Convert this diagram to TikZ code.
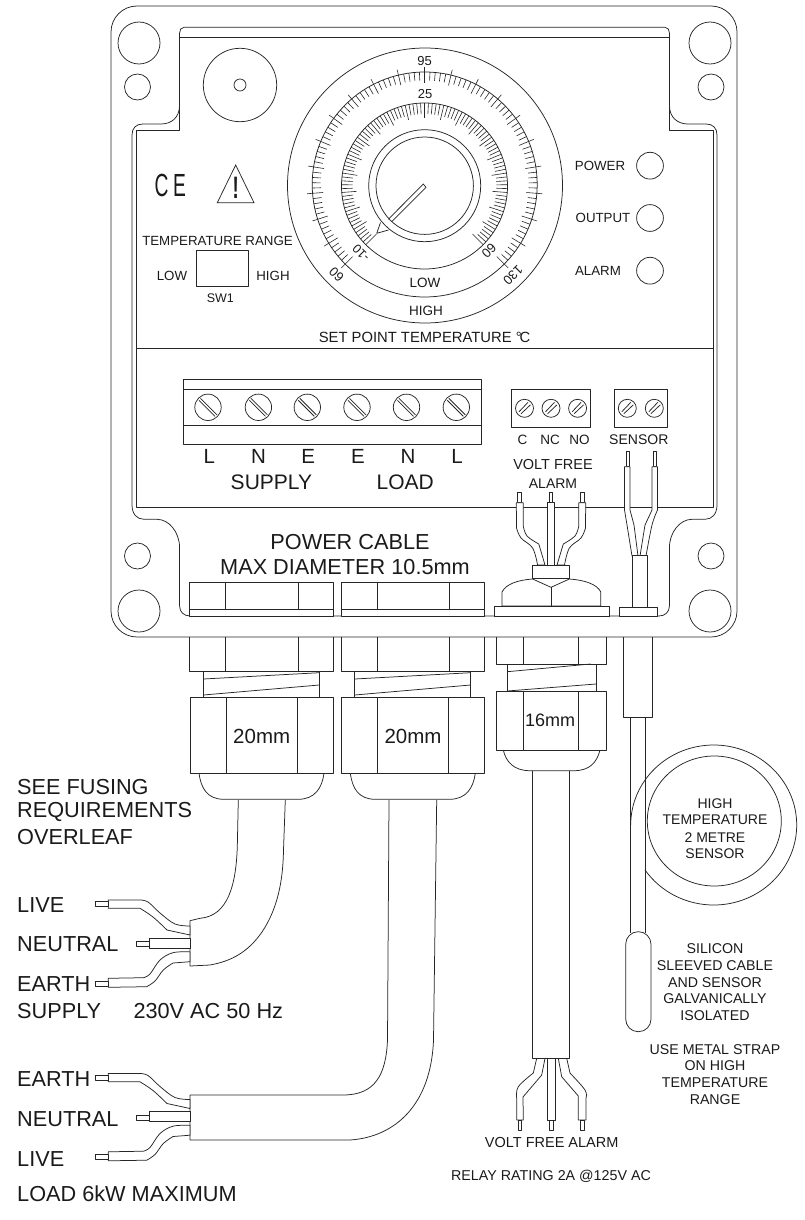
\documentclass[tikz,border=0pt]{standalone}
\usepackage{fontspec}
\setmainfont{Liberation Sans}
\definecolor{ink}{HTML}{262626}
\definecolor{txt}{HTML}{1A1A1A}
\tikzset{
  lab/.style={font=\fontsize{#1}{#1}\selectfont, inner sep=0pt, text=txt},
  labl/.style={font=\fontsize{#1}{#1}\selectfont, inner sep=0pt, anchor=west, text=txt},
  ln/.style={draw=ink, line width=0.75pt, line join=round},
  wf/.style={ln, fill=white},
  tick/.style={draw=ink, line width=0.6pt}
}
\newcommand{\bigscrew}[2]{%
  \draw[ln] (#1,#2) circle[radius=13.2pt];
  \draw[ln] ($(#1,#2)+(-7.5,-9)$) -- ($(#1,#2)+(9,7.5)$);
  \draw[ln] ($(#1,#2)+(-9,-7)$) -- ($(#1,#2)+(7,9)$);
}
\newcommand{\smallscrew}[2]{%
  \draw[ln] (#1,#2) circle[radius=9pt];
  \draw[ln] ($(#1,#2)+(-5.5,3.5)$) -- ($(#1,#2)+(3.5,-6)$);
  \draw[ln] ($(#1,#2)+(-3.5,5.5)$) -- ($(#1,#2)+(6,-3.5)$);
}
\newcommand{\leadwires}{%
  % upper lead
  \draw[wf] (108.3,900) -- plot[smooth,tension=.6] coordinates {(140,900) (148,902) (160,913) (175,924) (190,926)} -- (190,935) -- plot[smooth,tension=.6] coordinates {(167,930) (153,917) (140,908.3)} -- (108.3,908.3) -- cycle;
  \draw[wf] (95,901.7) rectangle (108.3,906.7);
  % middle lead
  \draw[wf] (149.3,938.3) rectangle (190,948.3);
  \draw[wf] (136.7,941.7) rectangle (149.3,946.7);
  % lower lead
  \draw[wf] (108.3,978.3) -- plot[smooth,tension=.6] coordinates {(143.3,977.7) (150,974) (160,960) (173,952.7) (190,951.7)} -- (190,961.7) -- plot[smooth,tension=.6] coordinates {(173,963) (163.3,970) (155,981) (146.7,986.7)} -- (108.3,987.3) -- cycle;
  \draw[wf] (95,981) rectangle (108.3,986);
}
\usetikzlibrary{calc}
\begin{document}
\begin{tikzpicture}[x=1pt,y=-1pt]
\useasboundingbox (0,0) rectangle (804,1220);
% ---------- enclosure ----------
\draw[ln,rounded corners=26pt] (111,6) rectangle (737,637);
\draw[ln] (184,27.3) -- (665,27.3) .. controls (668,27.3) and (669.4,30) .. (669.4,33) -- (669.4,105)
  .. controls (669.4,118) and (678,124) .. (688,124) -- (706,124) .. controls (713,124) and (717,128) .. (717,135)
  -- (717,505) .. controls (717,514) and (712,519.3) .. (705,519.3) -- (692,519.3)
  .. controls (680,519.3) and (669.4,532) .. (669.4,548) -- (669.4,606)
  .. controls (669.4,612) and (665,616) .. (659,616) -- (190,616)
  .. controls (184,616) and (179.6,612) .. (179.6,606) -- (179.6,548)
  .. controls (179.6,532) and (169,519.3) .. (157,519.3) -- (144,519.3)
  .. controls (137,519.3) and (132,514) .. (132,505) -- (132,135)
  .. controls (132,128) and (136,124) .. (143,124) -- (161,124)
  .. controls (171,124) and (179.6,118) .. (179.6,105) -- (179.6,33)
  .. controls (179.6,30) and (181,27.3) .. (184,27.3) -- cycle;
\draw[ln] (179.6,37.3) -- (669.4,37.3) -- (669.4,130) -- (713.5,130) -- (713.5,507) -- (136,507) -- (136,130) -- (179.6,130) -- cycle;
\draw[ln] (136,348) -- (713.5,348);
% mounting holes
\foreach \cx/\cy/\r in {139/43/21,137.5/87/13,710/43/21,711/87/13,137.5/556/13,139/611/21,711/556/13,710/611/21}
  \draw[ln] (\cx,\cy) circle[radius=\r pt];
\draw[ln] (240,85) circle[radius=36.7pt];
\draw[ln] (240,85) circle[radius=6pt];
% ---------- dial ----------
\draw[ln] (425,185.5) circle[radius=137.5pt];
\draw[ln] (424.7,184.5) circle[radius=112.5pt];
\draw[ln] (424.5,186) circle[radius=83pt];
\draw[ln] (424.7,185.7) circle[radius=56pt];
\draw[ln] (424.7,185.7) circle[radius=48.7pt];
\foreach \i in {0,...,100}{
  \pgfmathsetmacro{\a}{225-2.7*\i}
  \pgfmathtruncatemacro{\m}{mod(\i,5)}
  \ifnum\m=0
    \draw[tick] ($(424.7,184.5)+({118*cos(\a)},{-118*sin(\a)})$) -- ($(424.7,184.5)+({102*cos(\a)},{-102*sin(\a)})$);
    \draw[tick] ($(424.5,186)+({83*cos(\a)},{-83*sin(\a)})$) -- ($(424.5,186)+({68*cos(\a)},{-68*sin(\a)})$);
  \else
    \draw[tick] ($(424.7,184.5)+({112.5*cos(\a)},{-112.5*sin(\a)})$) -- ($(424.7,184.5)+({104*cos(\a)},{-104*sin(\a)})$);
    \draw[tick] ($(424.5,186)+({83*cos(\a)},{-83*sin(\a)})$) -- ($(424.5,186)+({72*cos(\a)},{-72*sin(\a)})$);
  \fi
}
% pointer
\draw[ln] (388.3,219.3) -- (423.3,184) -- (426,187.3) -- (391.7,221.7);
\draw[ln] (380.5,222.5) -- (376.7,233.3) -- (388.5,230);
\node[lab=13] (d95) at (424.5,60.7) {95};
\node[lab=13] (d25) at (425,94.3) {25};
\node[lab=12.5,rotate=135] (dm10) at (361,253) {-10};
\node[lab=13,rotate=135] (d60l) at (336.5,274.5) {60};
\node[lab=13,rotate=225] (d60r) at (489,251) {60};
\node[lab=13,rotate=225] (d130) at (513,275) {130};
\node[lab=13.5] (dlow) at (425,283) {LOW};
\node[lab=13.5] (dhigh) at (426,311) {HIGH};
\node[lab=14.8] (setp) at (424.5,337) {SET POINT TEMPERATURE °\kern-2.2pt C};
% marks
\node[lab=32] (ce) at (170.3,185.7) {\scalebox{0.6}[1]{C\kern8pt E}};
\draw[ln,line join=miter] (235.7,165) -- (254,202.7) -- (217.3,202.7) -- cycle;
\node[lab=31] (warn) at (235.7,187.5) {\scalebox{0.6}[1]{\bfseries !}};
\node[lab=13.3] (trange) at (217.5,240.7) {TEMPERATURE RANGE};
\draw[ln] (196,250.7) rectangle (248,286.7);
\node[lab=13.3] (lowsw) at (172,275.7) {LOW};
\node[lab=13.3] (highsw) at (273,275.7) {HIGH};
\node[lab=12.5] (sw1) at (220.4,298) {SW1};
\node[lab=13.3] (power) at (600,166) {POWER};
\node[lab=13.3] (output) at (603,218) {OUTPUT};
\node[lab=13.3] (alarm) at (598,270.7) {ALARM};
\foreach \cy in {165.7,218,270.7} \draw[ln] (650,\cy) circle[radius=13.4pt];
% ---------- terminals ----------
\draw[ln] (183,379.3) rectangle (481.6,444.3);
\draw[ln] (183,389.3) -- (481.6,389.3);
\draw[ln] (183,425.3) -- (481.6,425.3);
\bigscrew{208}{407.3}\bigscrew{258.4}{407.3}\bigscrew{307.3}{407.3}\bigscrew{357}{407.3}\bigscrew{406.5}{407.3}\bigscrew{456.3}{407.3}
\draw[ln] (511.4,389.3) rectangle (590.6,427.3);
\smallscrew{524.5}{408.3}\smallscrew{551}{408.3}\smallscrew{577.6}{408.3}
\draw[ln] (614.3,389.3) rectangle (667.3,427.3);
\smallscrew{627.3}{408.3}\smallscrew{654.3}{408.3}
\node[lab=20.5] (tl1) at (209.4,456.7) {L};
\node[lab=20.5] (tn1) at (258.4,456.7) {N};
\node[lab=20.5] (te1) at (308.2,456.7) {E};
\node[lab=20.5] (te2) at (358,456.7) {E};
\node[lab=20.5] (tn2) at (408,456.7) {N};
\node[lab=20.5] (tl2) at (457,456.7) {L};
\node[lab=21] (tsup) at (271.4,482) {SUPPLY};
\node[lab=21] (tload) at (405.3,482) {LOAD};
\node[lab=13.5] (tc) at (522.4,440) {C};
\node[lab=13.5] (tnc) at (550,440) {NC};
\node[lab=13.5] (tno) at (579.6,440) {NO};
\node[lab=14] (tsen) at (638.8,440) {SENSOR};
\node[lab=14.5] (vf1) at (553,465) {VOLT FREE};
\node[lab=14] (vf2) at (553,484) {ALARM};
\node[lab=21.7] (pc1) at (350,541.7) {POWER CABLE};
\node[lab=21.7] (pc2) at (345,566.7) {MAX DIAMETER 10.5mm};
% ---------- alarm wires in box ----------
\draw[wf] (517.7,502.7) rectangle (521.6,492.7);
\draw[wf] (549.3,502.7) rectangle (552.7,492.7);
\draw[wf] (580.4,502.7) rectangle (584,492.7);
\draw[wf] (516.3,502.7) -- plot[smooth,tension=.6] coordinates {(516.5,528) (521,538) (532.6,548) (537.6,565)} -- (545,565) -- plot[smooth,tension=.6] coordinates {(538.8,544) (527,536) (523.3,526)} -- (523.3,502.7) -- cycle;
\draw[wf] (547.8,502.7) rectangle (554.3,565);
\draw[wf] (585.7,502.7) -- plot[smooth,tension=.6] coordinates {(585.5,528) (581,538) (569.4,548) (564.5,565)} -- (557,565) -- plot[smooth,tension=.6] coordinates {(563.3,544) (575,536) (578.8,526)} -- (578.8,502.7) -- cycle;
\draw[wf] (532.6,565) rectangle (569.4,578.5);
\draw[wf] (502,606) -- (502,592) .. controls (506,584) and (518,580) .. (532.6,579) -- (551,587.3) -- (569.4,579) .. controls (584,580) and (597,584) .. (600.8,592) -- (600.8,606) -- cycle;
\draw[ln] (551,587.3) -- (551,606);
\draw[wf] (494,606) rectangle (609,616);
% sensor wires in box
\draw[wf] (626.5,451.7) rectangle (629.5,466.7);
\draw[wf] (653,451.7) rectangle (656,466.7);
\draw[wf] (624.5,466.7) -- plot[smooth,tension=.6] coordinates {(624.5,510) (627,525) (632,556)} -- (638,556) -- plot[smooth,tension=.6] coordinates {(634,525) (630,510)} -- (630,466.7) -- cycle;
\draw[wf] (657.5,466.7) -- plot[smooth,tension=.6] coordinates {(657.5,510) (652,525) (646,556)} -- (640,556) -- plot[smooth,tension=.6] coordinates {(645,525) (652,510)} -- (652,466.7) -- cycle;
\draw[wf] (632,555.7) rectangle (647,607.3);
\draw[wf] (619.6,607.3) rectangle (657,616);
% ---------- glands 1 & 2 ----------
\foreach \dx/\w/\nm in {0/143.7/a,151.3/143.7/b}{
  \begin{scope}[shift={(\dx,0)}]
    % inside box
    \draw[wf] (189.8,582.7) rectangle (333.5,616);
    \draw[ln] (189.8,609.3) -- (333.5,609.3);
    \draw[ln] (225.7,582.7) -- (225.7,609.3);
    \draw[ln] (298,582.7) -- (298,609.3);
    % below box
    \draw[ln] (189.8,637) -- (189.8,671.7) -- (333.5,671.7) -- (333.5,637);
    \draw[ln] (225.7,637) -- (225.7,671.7);
    \draw[ln] (298,637) -- (298,671.7);
    \draw[ln] (203.3,671.7) -- (203.3,697.3);
    \draw[ln] (319.3,671.7) -- (319.3,697.3);
    \draw[ln] (203.3,679) -- (319.3,672.7);
    \draw[ln] (203.3,695) -- (319.3,685);
    \draw[ln] (190,697.3) rectangle (333.3,773.3);
    \draw[ln] (226,697.3) -- (226,773.3);
    \draw[ln] (297.3,697.3) -- (297.3,773.3);
    \draw[ln] (199,773.3) .. controls (201,788) and (207,799.3) .. (224,799.3) -- (298,799.3) .. controls (315,799.3) and (322,788) .. (324,773.3);
  \end{scope}
}
\node[lab=20.5] (g20a) at (261.7,736.7) {20mm};
\node[lab=20.5] (g20b) at (413,736.7) {20mm};
% ---------- gland 3 ----------
\draw[ln] (496.7,637) -- (496.7,664) -- (606,664) -- (606,637);
\draw[ln] (523.3,637) -- (523.3,664);
\draw[ln] (578.4,637) -- (578.4,664);
\draw[ln] (507.3,664) -- (507.3,691.7);
\draw[ln] (596,664) -- (596,691.7);
\draw[ln] (507.3,671.7) -- (590.6,664);
\draw[ln] (507.3,691) -- (596,684);
\draw[ln] (496.7,691.7) rectangle (606,750);
\draw[ln] (523.3,691.7) -- (523.3,750);
\draw[ln] (578.3,691.7) -- (578.3,750);
\draw[ln] (503.3,750) .. controls (506,762) and (514,770.7) .. (530,770.7) -- (574,770.7) .. controls (590,770.7) and (597,762) .. (600,750);
\node[lab=18] (g16) at (550,720.7) {16mm};
\draw[ln] (532.7,770.7) -- (532.7,1058.3) -- (569.3,1058.3) -- (569.3,770.7);
% alarm wires below
\draw[wf] (518.3,1120) rectangle (521.7,1130);
\draw[wf] (549.5,1120) rectangle (553.2,1130);
\draw[wf] (580.5,1120) rectangle (584,1130);
\draw[ln] (536.7,1058.3) -- plot[smooth,tension=.6] coordinates {(533.3,1073) (518.3,1086.7) (516.7,1098)} -- (516.7,1120) -- (523.3,1120) -- plot[smooth,tension=.6] coordinates {(523,1097) (541.7,1075)} -- (545,1058.3);
\draw[ln] (547.7,1058.3) rectangle (555,1120);
\draw[ln] (566.7,1058.3) -- plot[smooth,tension=.6] coordinates {(570,1073) (585,1090) (586,1098)} -- (586,1120) -- (578.3,1120) -- plot[smooth,tension=.6] coordinates {(578.3,1096) (561.7,1076.7)} -- (558.3,1058.3);
\node[lab=14.5] (vfa) at (551.7,1142.7) {VOLT FREE ALARM};
\node[lab=14.3] (relay) at (551,1176) {RELAY RATING 2A @125V AC};
% ---------- sensor cable ----------
\draw[ln] (623.3,637) -- (623.3,717.3) -- (652.7,717.3) -- (652.7,637);
\draw[ln] (630.7,717.3) -- (630.7,933);
\draw[ln] (645.3,717.3) -- (645.3,933);
\draw[ln] (630.7,825) arc[start angle=180, end angle=-146, x radius=83pt, y radius=80pt];
\draw[ln] (714.3,821) circle[x radius=67pt, y radius=65pt];
\draw[ln,fill=white,rounded corners=12.5pt] (625.7,931.7) rectangle (651,1031.7);
\node[lab=14] (s1) at (715,804) {HIGH};
\node[lab=14] (s2) at (715,820) {TEMPERATURE};
\node[lab=14] (s3) at (715,837.3) {2 METRE};
\node[lab=14] (s4) at (715,854) {SENSOR};
\node[lab=14.2] (s5) at (715,949) {SILICON};
\node[lab=14.2] (s6) at (715,965.7) {SLEEVED CABLE};
\node[lab=14.2] (s7) at (715,982.3) {AND SENSOR};
\node[lab=14.2] (s8) at (715,999) {GALVANICALLY};
\node[lab=14.2] (s9) at (715,1015.7) {ISOLATED};
\node[lab=14.2] (s10) at (715,1049.3) {USE METAL STRAP};
\node[lab=14.2] (s11) at (715,1066) {ON HIGH};
\node[lab=14.2] (s12) at (715,1082.7) {TEMPERATURE};
\node[lab=14.2] (s13) at (715,1099.3) {RANGE};
% ---------- supply cable ----------
\draw[wf] (238.3,800) -- (237.3,846.7) .. controls (236,885) and (228,916) .. (200,918.3) -- (190,920.7) -- (190,966) -- (210,965)
  .. controls (232,961) and (248,952) .. (262,932) .. controls (278,908) and (283,880) .. (283.5,850) -- (285.3,800);
\leadwires
% ---------- load cable ----------
\draw[wf] (389,800) -- (387.5,1040) .. controls (386,1075) and (375,1095) .. (343,1095) -- (190,1095) -- (190,1140) -- (350,1140)
  .. controls (395,1137) and (431,1105) .. (433.5,1040) -- (436.7,800);
\begin{scope}[shift={(0,173.5)}]\leadwires\end{scope}
% ---------- left labels ----------
\node[labl=21.7] (l1) at (17,786.7) {SEE FUSING};
\node[labl=21.7] (l2) at (17,812) {REQUIREMENTS};
\node[labl=21.7] (l3) at (17,837.3) {OVERLEAF};
\node[labl=21.7] (l4) at (17,905) {LIVE};
\node[labl=21.7] (l5) at (17,944.3) {NEUTRAL};
\node[labl=21.7] (l6) at (17,984) {EARTH};
\node[labl=21.7] (l7) at (17,1010.7) {SUPPLY};
\node[labl=21.7] (l8) at (133.3,1010.7) {230V AC 50 Hz};
\node[labl=21.7] (l9) at (17,1079) {EARTH};
\node[labl=21.7] (l10) at (17,1118.7) {NEUTRAL};
\node[labl=21.7] (l11) at (17,1159) {LIVE};
\node[labl=21.7] (l12) at (17,1193.3) {LOAD 6kW MAXIMUM};
\end{tikzpicture}
\end{document}
